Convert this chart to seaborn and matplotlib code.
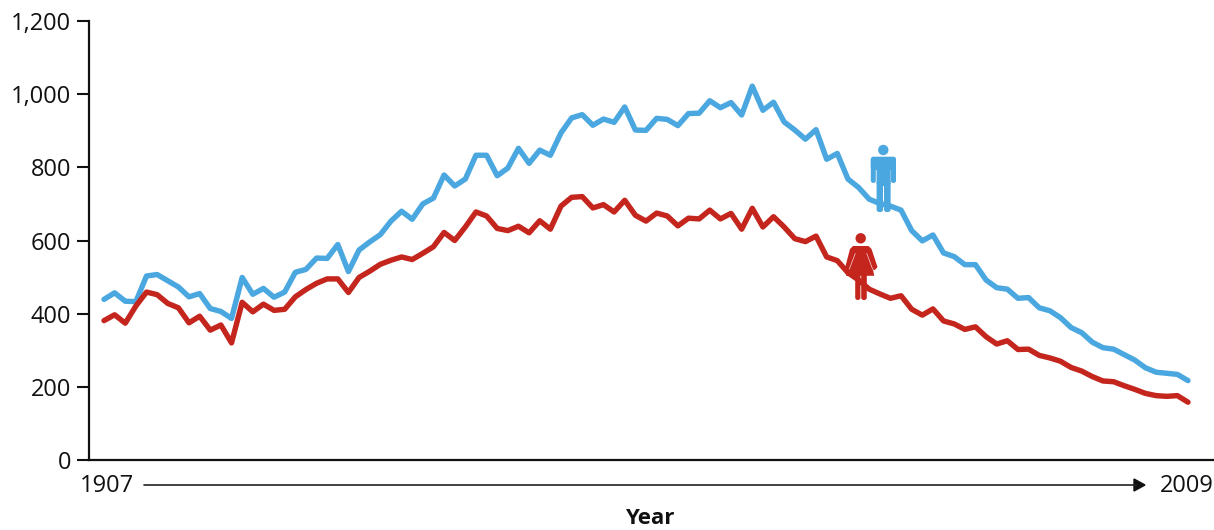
import numpy as np
import pandas as pd
import matplotlib
matplotlib.use("Agg")
import matplotlib.pyplot as plt
from matplotlib.patches import Circle, Polygon, FancyBboxPatch
import seaborn as sns

years = list(range(1907, 2010))
men = [439, 457, 434, 433, 503, 507, 490, 473, 446, 455, 414, 406, 387, 499, 453, 469, 445, 459, 513, 521,
       552, 551, 589, 515, 574, 596, 616, 653, 680, 658, 700, 716, 779, 749, 768, 833, 833, 777, 798, 852,
       811, 847, 833, 894, 935, 944, 915, 932, 923, 965, 902, 901, 934, 931, 914, 947, 948, 982, 963, 977,
       943, 1022, 956, 978, 924, 902, 877, 903, 822, 838, 768, 745, 713, 701, 694, 683, 627, 599, 615, 566,
       556, 534, 534, 492, 471, 467, 442, 444, 416, 408, 389, 362, 348, 322, 307, 303, 288, 273, 252, 240,
       237, 234, 217]
women = [381, 397, 374, 421, 459, 452, 428, 416, 375, 393, 355, 369, 320, 431, 405, 426, 409, 412, 446, 466,
         483, 495, 495, 458, 499, 516, 535, 546, 555, 548, 565, 583, 622, 600, 637, 678, 667, 633, 627, 639,
         621, 654, 631, 694, 718, 720, 689, 698, 678, 710, 669, 653, 675, 667, 640, 661, 659, 683, 659, 674,
         631, 688, 637, 665, 637, 605, 597, 612, 555, 545, 512, 492, 467, 454, 442, 449, 412, 396, 413, 380,
         372, 357, 364, 337, 317, 326, 302, 303, 286, 279, 270, 253, 243, 228, 216, 214, 203, 193, 182, 176,
         174, 176, 158]
y_ticks = [0, 200, 400, 600, 800, 1000, 1200]

BLUE = "#4BA7DF"
RED = "#C4261E"
W, H = 1214, 530

sns.set_style("white")
plt.rcParams["font.family"] = ["Open Sans", "DejaVu Sans"]

fig = plt.figure(figsize=(W / 100, H / 100), dpi=100)
ax = fig.add_axes([89 / W, 1 - 460 / H, (W - 89) / W, (460 - 21) / H])

df = pd.DataFrame({"year": years * 2, "deaths": men + women,
                   "sex": ["men"] * len(years) + ["women"] * len(years)})
sns.lineplot(data=df, x="year", y="deaths", hue="sex", palette={"men": BLUE, "women": RED},
             estimator=None, linewidth=3.9, legend=False, ax=ax,
             solid_joinstyle="round", solid_capstyle="round")

px_per_year = (1188 - 104) / (years[-1] - years[0])
ax.set_xlim(years[0] - 15 / px_per_year, years[-1] + 26 / px_per_year)
ax.set_ylim(0, 1200)
ax.set_yticks(y_ticks)
ax.set_yticklabels([f"{v:,}" for v in y_ticks], fontsize=17, color="#111111")
ax.set_xticks([])
ax.set_xlabel("")
ax.set_ylabel("")
ax.tick_params(axis="y", length=9, width=1.5, color="#111111", pad=4, left=True)
for side in ["top", "right"]:
    ax.spines[side].set_visible(False)
for side in ["left", "bottom"]:
    ax.spines[side].set_linewidth(1.6)
    ax.spines[side].set_color("#111111")


# figure helpers, positions in reference pixels
def fx(x):
    return x / W


def fy(y):
    return 1 - y / H


fig.text(fx(107), fy(486), "1907", fontsize=17, ha="center", va="center", color="#111111")
fig.text(fx(1187), fy(486), "2009", fontsize=17, ha="center", va="center", color="#111111")
fig.text(fx(650), fy(524.5), "Year", fontsize=16, fontweight="bold", ha="center", va="baseline", color="#111111")
fig.add_artist(plt.Line2D([fx(144), fx(1136)], [fy(485), fy(485)], color="#222222", lw=1.2))
fig.add_artist(Polygon([(fx(1134), fy(479)), (fx(1145), fy(485)), (fx(1134), fy(491))],
                       closed=True, color="#111111", transform=fig.transFigure))

pix = matplotlib.transforms.Affine2D().scale(1, -1).translate(0, H)


def add_shape(patch):
    patch.set_transform(pix)
    patch.set_linewidth(0)
    fig.add_artist(patch)


def rbar(x0, y0, x1, y1, color):
    add_shape(FancyBboxPatch((x0 + 1.5, y0 + 1.5), x1 - x0 - 3, y1 - y0 - 3,
                             boxstyle="round,pad=1.5,rounding_size=2.5", color=color))


# man icon
add_shape(Circle((883.3, 150), 5.2, color=BLUE))
rbar(870.8, 156.7, 896, 170, BLUE)
rbar(870.8, 158, 875.8, 183, BLUE)
rbar(890.8, 158, 896, 183, BLUE)
rbar(876.6, 158, 890.6, 186, BLUE)
rbar(876.6, 180, 883, 212, BLUE)
rbar(884, 180, 890.6, 212, BLUE)

# woman icon
add_shape(Circle((860.7, 238.3), 5.2, color=RED))
add_shape(Polygon([(853, 246), (868.5, 246), (871.5, 249), (877.5, 267), (875, 270), (873, 269.5),
                   (874.2, 275.8), (846, 275.8), (847.5, 270), (845, 268), (850, 249)],
                  closed=True, color=RED))
rbar(855.2, 272, 860.4, 300, RED)
rbar(861.2, 272, 866.8, 300, RED)
fig.add_artist(plt.Line2D([fx(855.3), fx(849.3)], [fy(253.3), fy(269.3)], color="white", lw=0.4))
fig.add_artist(plt.Line2D([fx(866.7), fx(872.7)], [fy(253.3), fy(269.3)], color="white", lw=0.4))

fig.savefig("out.png", dpi=100)
